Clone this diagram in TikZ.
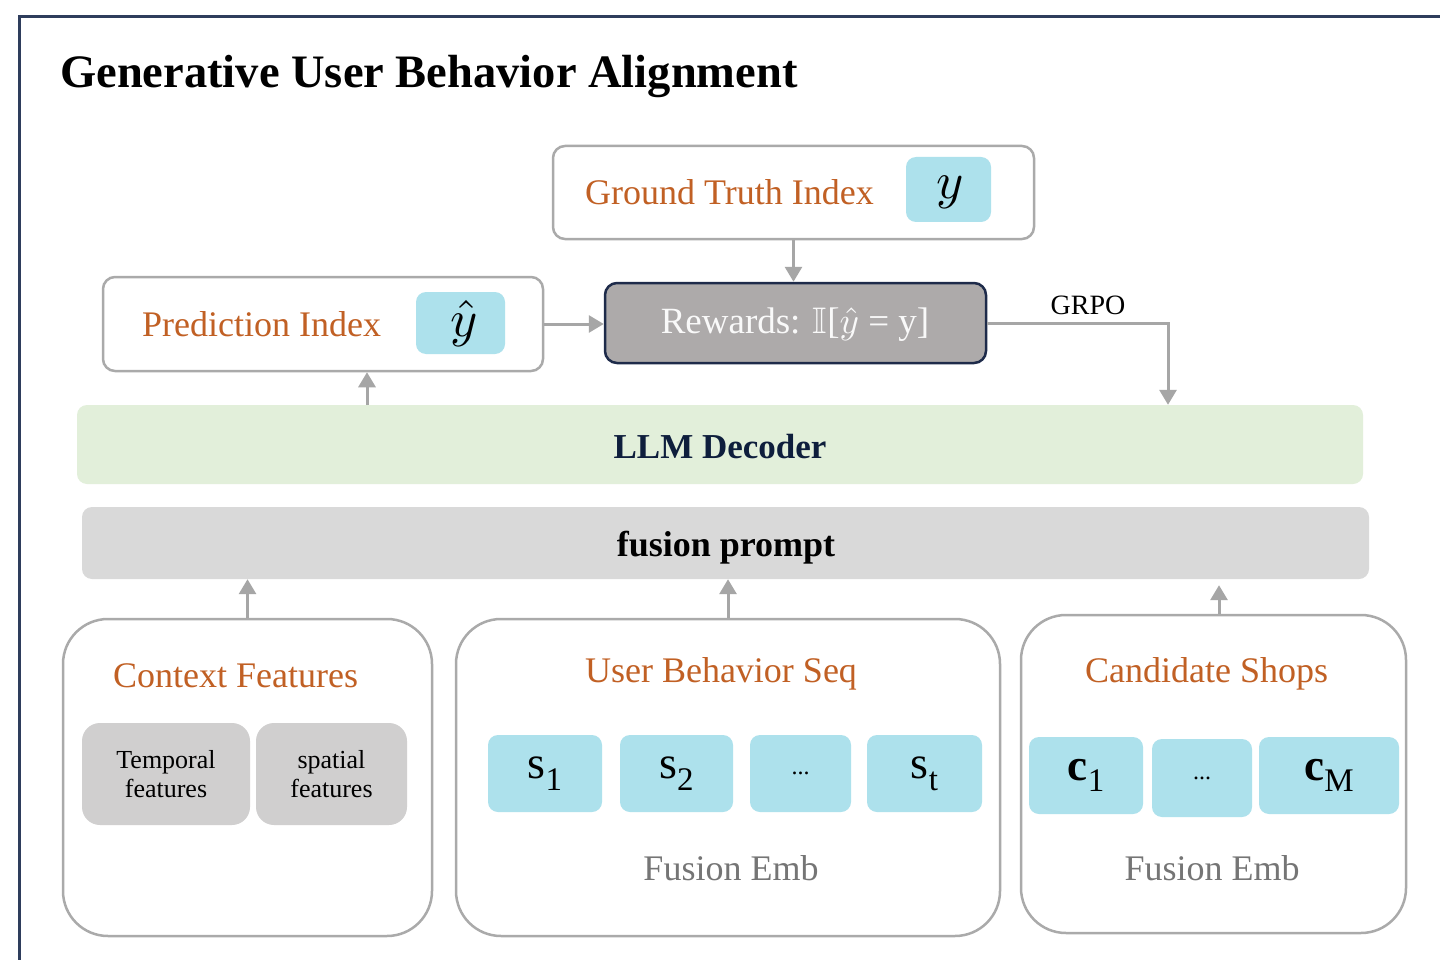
\documentclass[tikz,border=0pt]{standalone}
\usepackage{amsmath,amssymb}
\usepackage{fontspec}
\setmainfont{Liberation Serif}
\usetikzlibrary{arrows.meta}
\definecolor{orangetxt}{RGB}{193,96,36}
\definecolor{cyanfill}{RGB}{173,225,236}
\definecolor{bordergray}{RGB}{170,170,170}
\definecolor{arrowgray}{RGB}{166,166,166}
\definecolor{rewfill}{RGB}{173,170,170}
\definecolor{navy}{RGB}{30,43,74}
\definecolor{framenavy}{RGB}{46,61,92}
\definecolor{llmfill}{RGB}{226,239,218}
\definecolor{llmtxt}{RGB}{14,30,60}
\definecolor{fusfill}{RGB}{217,217,217}
\definecolor{featfill}{RGB}{208,207,207}
\definecolor{embtxt}{RGB}{117,117,117}
\newcommand{\myfs}[1]{\fontsize{#1}{#1}\selectfont}
\begin{document}
\begin{tikzpicture}[x=1pt,y=-1pt,
  box/.style={draw=bordergray, line width=2.5pt, fill=white, rounded corners=12pt, inner sep=0pt},
  bigbox/.style={draw=bordergray, line width=2.5pt, fill=white, rounded corners=45pt, inner sep=0pt},
  cyanbox/.style={fill=cyanfill, rounded corners=10pt, inner sep=0pt},
  featbox/.style={fill=featfill, rounded corners=18pt, inner sep=0pt, align=center, font=\fontsize{26}{29}\selectfont},
  bar/.style={rounded corners=10pt, inner sep=0pt},
  otitle/.style={text=orangetxt, font=\myfs{36}, inner sep=0pt},
  emb/.style={text=embtxt, font=\myfs{36}, inner sep=0pt},
  arr/.style={draw=arrowgray, line width=3pt, -{Triangle[length=15pt,width=17pt]}},
  frameline/.style={draw=framenavy, line width=3pt}
]
\useasboundingbox (0,0) rectangle (1440,960);
\fill[white] (0,0) rectangle (1440,960);
\draw[frameline] (1450,17) -- (19,17) -- (19,970);

% title
\node[anchor=base west, inner sep=0pt, font=\myfs{46.5}\bfseries] (title) at (60,88) {Generative User Behavior Alignment};

% ground truth
\node[box, minimum width=481pt, minimum height=93pt] (gt) at (793.5,192.5) {};
\node[otitle, anchor=west] (gttxt) at (585,192) {Ground Truth Index};
\node[cyanbox, minimum width=85pt, minimum height=65pt] (ybox) at (948.5,189.5) {};
\node[font=\myfs{10}, inner sep=0pt] (ytxt) at (950,192) {\scalebox{5.2}{$y$}};

% prediction
\node[box, minimum width=440pt, minimum height=94pt] (pred) at (323,324) {};
\node[otitle, anchor=west] (predtxt) at (142,324) {Prediction Index};
\node[cyanbox, minimum width=89pt, minimum height=62pt] (yhat) at (460.5,323) {};
\node[font=\myfs{10}, inner sep=0pt] (yhattxt) at (464,323) {\scalebox{5.2}{$\hat{y}$}};

% rewards
\node[draw=navy, fill=rewfill, line width=2.5pt, rounded corners=12pt, inner sep=0pt,
      minimum width=381pt, minimum height=80pt] (rew) at (795.5,323) {};
\node[text=white!95!gray, font=\myfs{10}, inner sep=0pt] (rewtxt) at (795,325)
      {\scalebox{3.7}{Rewards: $\mathbb{I}$[$\hat{y}$ = y]}};
\node[font=\myfs{28}, inner sep=0pt] (grpo) at (1088,305) {GRPO};

% bars
\node[bar, fill=llmfill, minimum width=1286pt, minimum height=79pt] (llm) at (720,444.5) {};
\node[text=llmtxt, font=\myfs{35}\bfseries, inner sep=0pt] (llmtxtnode) at (720,447) {LLM Decoder};
\node[bar, fill=fusfill, minimum width=1287pt, minimum height=72pt] (fus) at (725.5,543) {};
\node[font=\myfs{36}\bfseries, inner sep=0pt] (fustxt) at (726,548) {fusion prompt};

% context features
\node[bigbox, minimum width=369pt, minimum height=317pt] (ctx) at (247.5,777.5) {};
\node[otitle] (ctxtxt) at (235.5,676) {Context Features};
\node[featbox, minimum width=168pt, minimum height=102pt] (temp) at (166,774) {Temporal\\features};
\node[featbox, minimum width=151pt, minimum height=102pt] (spat) at (331.5,774) {spatial\\features};

% user behavior seq
\node[bigbox, minimum width=544pt, minimum height=317pt] (ubs) at (728,777.5) {};
\node[otitle] (ubstxt) at (721,674) {User Behavior Seq};
\node[cyanbox, minimum width=114pt, minimum height=77pt, font=\myfs{46}] (s1) at (545,773.5) {s{\myfs{33}\raisebox{-12pt}{1}}};
\node[cyanbox, minimum width=113pt, minimum height=77pt, font=\myfs{46}] (s2) at (676.5,773.5) {s{\myfs{33}\raisebox{-12pt}{2}}};
\node[cyanbox, minimum width=101pt, minimum height=77pt, font=\myfs{24}] (sdots) at (800.5,773.5) {...};
\node[cyanbox, minimum width=115pt, minimum height=77pt, font=\myfs{46}] (st) at (924.5,773.5) {s{\myfs{33}\raisebox{-12pt}{t}}};
\node[emb] (emb1) at (731,868) {Fusion Emb};

% candidate shops
\node[bigbox, minimum width=385pt, minimum height=318pt] (cs) at (1213.5,774) {};
\node[otitle] (cstxt) at (1206.5,674) {Candidate Shops};
\node[cyanbox, minimum width=114pt, minimum height=77pt, font=\myfs{45}] (c1) at (1086,775.5) {\textbf{c}{\myfs{33}\raisebox{-11pt}{1}}};
\node[cyanbox, minimum width=100pt, minimum height=78pt, font=\myfs{24}] (cdots) at (1202,778) {...};
\node[cyanbox, minimum width=140pt, minimum height=77pt, font=\myfs{45}] (cM) at (1329,775.5) {\textbf{c}{\myfs{33}\raisebox{-11pt}{M}}};
\node[emb] (emb2) at (1212,868) {Fusion Emb};

% connectors
\coordinate (gx) at (1168,0);
\coordinate (px) at (367,0);
\coordinate (cx) at (1219,0);
\draw[arr] (gt.south) -- (gt.south |- rew.north);
\draw[arr] (pred.east) -- (pred.east -| rew.west);
\draw[arr] (rew.east) -| (gx |- llm.north);
\draw[arr] (px |- llm.north) -- (px |- pred.south);
\draw[arr] (ctx.north) -- (ctx.north |- fus.south);
\draw[arr] (ubs.north) -- (ubs.north |- fus.south);
\draw[arr] (cx |- cs.north) -- ([yshift=-6pt]cx |- fus.south);
\end{tikzpicture}
\end{document}
